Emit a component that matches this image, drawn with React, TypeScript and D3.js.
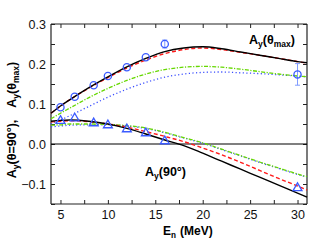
import React, { useRef, useEffect } from 'react';
import * as d3 from 'd3';

// neutron energies (MeV) for the calculated curves
const curveE = [4, 5, 6, 8, 10, 12, 14, 16, 18, 20, 22, 24, 26, 28, 30, 31];

// Ay(theta_max) curves
const maxSolid = [0.077, 0.095, 0.111, 0.141, 0.168, 0.193, 0.214, 0.231, 0.24, 0.243, 0.238, 0.23, 0.222, 0.214, 0.206, 0.203];
const maxDashed = [0.077, 0.095, 0.111, 0.14, 0.166, 0.19, 0.21, 0.226, 0.236, 0.24, 0.236, 0.229, 0.222, 0.214, 0.206, 0.202];
const maxDashDot = [0.063, 0.077, 0.09, 0.116, 0.139, 0.159, 0.175, 0.186, 0.192, 0.194, 0.192, 0.187, 0.181, 0.175, 0.17, 0.168];
const maxDotted = [0.05, 0.06, 0.071, 0.094, 0.117, 0.137, 0.154, 0.167, 0.175, 0.179, 0.18, 0.178, 0.176, 0.173, 0.17, 0.168];

// Ay(90 deg) curves
const c90Solid = [0.057, 0.059, 0.06, 0.057, 0.05, 0.039, 0.025, 0.01, -0.004, -0.023, -0.043, -0.063, -0.083, -0.103, -0.123, -0.133];
const c90Dashed = [0.055, 0.057, 0.058, 0.056, 0.05, 0.042, 0.031, 0.019, 0.006, -0.01, -0.027, -0.046, -0.066, -0.086, -0.105, -0.115];
const c90DashDot = [0.047, 0.048, 0.05, 0.05, 0.049, 0.046, 0.04, 0.029, 0.016, 0.003, -0.013, -0.029, -0.045, -0.06, -0.075, -0.082];
const c90Dotted = [0.043, 0.045, 0.047, 0.048, 0.048, 0.045, 0.039, 0.028, 0.015, 0.002, -0.014, -0.03, -0.046, -0.061, -0.076, -0.083];

// measured points
const dataE = [5, 6.5, 8.5, 10, 12, 14, 16, 30];
const dataMax = [0.092, 0.118, 0.147, 0.17, 0.192, 0.217, 0.25, 0.174];
const dataMaxErr = [0.004, 0.004, 0.004, 0.004, 0.004, 0.004, 0.01, 0.027];
const data90 = [0.058, 0.064, 0.052, 0.047, 0.037, 0.027, 0.007, -0.11];

const xTicks = d3.range(5, 31, 2.5);
const yTicks = d3.range(-0.15, 0.301, 0.05).map((v) => Math.round(v * 100) / 100);

const App = () => {
  const svgRef = useRef(null);
  useEffect(() => {
    d3.select(svgRef.current).selectAll('*').remove();
    const svg = d3.select(svgRef.current);
    const margin = { top: 24, right: 22, bottom: 38, left: 51 };
    const W = 329, H = 242;
    const x = d3.scaleLinear().domain([4, 31]).range([margin.left, W - margin.right]);
    const y = d3.scaleLinear().domain([-0.15, 0.3]).range([H - margin.bottom, margin.top]);
    const font = 'Liberation Sans, Arial, sans-serif';

    const isMajorX = (d) => Math.abs(d % 5) < 1e-6;
    const isMajorY = (d) => Math.abs(Math.round(d * 10) - d * 10) < 1e-6;

    const g = svg.append('g');
    // axes, ticks pointing inward
    const bottom = g.append('g').attr('transform', `translate(0,${y(-0.15)})`)
      .call(d3.axisBottom(x).tickValues(xTicks).tickSize(-4).tickPadding(6)
        .tickFormat((d) => (isMajorX(d) ? d3.format('d')(d) : '')));
    const top = g.append('g').attr('transform', `translate(0,${y(0.3)})`)
      .call(d3.axisTop(x).tickValues(xTicks).tickSize(-4).tickFormat(() => ''));
    const left = g.append('g').attr('transform', `translate(${x(4)},0)`)
      .call(d3.axisLeft(y).tickValues(yTicks).tickSize(-4).tickPadding(5)
        .tickFormat((d) => (isMajorY(d) && d > -0.15 ? d3.format('.1f')(d) : '')));
    const right = g.append('g').attr('transform', `translate(${x(31)},0)`)
      .call(d3.axisRight(y).tickValues(yTicks).tickSize(-4).tickFormat(() => ''));
    [bottom, top, left, right].forEach((a) => {
      a.selectAll('.domain').attr('stroke', '#222').attr('stroke-width', 1.2);
      a.selectAll('.tick line').attr('stroke', '#222');
      a.selectAll('text').style('font-family', font).style('font-size', '12.5px').attr('fill', '#111');
    });
    left.selectAll('.domain').attr('d', `M0,${y(0.3)}V${y(-0.15)}`);
    right.selectAll('.domain').attr('d', `M0,${y(0.3)}V${y(-0.15)}`);
    bottom.selectAll('.domain').attr('d', `M${x(4)},0H${x(31)}`);
    top.selectAll('.domain').attr('d', `M${x(4)},0H${x(31)}`);

    // zero line
    g.append('line')
      .attr('x1', x(4)).attr('x2', x(31)).attr('y1', y(0)).attr('y2', y(0))
      .attr('stroke', '#000').attr('stroke-width', 1.2);

    const line = d3.line().x((d) => x(d[0])).y((d) => y(d[1])).curve(d3.curveMonotoneX);
    const styles = [
      { vals: [maxDotted, c90Dotted], color: '#3b4fff', dash: '1.2,2.4', w: 1.3 },
      { vals: [maxDashDot, c90DashDot], color: '#66d800', dash: '4,1.5,1.2,1.5', w: 1.3 },
      { vals: [maxDashed, c90Dashed], color: '#ff1a1a', dash: '4,2.5', w: 1.4 },
      { vals: [maxSolid, c90Solid], color: '#000', dash: null, w: 1.4 },
    ];
    styles.forEach((s) => {
      s.vals.forEach((v) => {
        g.append('path')
          .attr('d', line(curveE.map((e, i) => [e, v[i]])))
          .attr('fill', 'none')
          .attr('stroke', s.color)
          .attr('stroke-width', s.w)
          .attr('stroke-dasharray', s.dash);
      });
    });

    const blue = '#3b5bff';
    // error bars
    dataE.forEach((e, i) => {
      const err = dataMaxErr[i];
      if (err < 0.006) return;
      g.append('line').attr('x1', x(e)).attr('x2', x(e))
        .attr('y1', y(dataMax[i] - err)).attr('y2', y(dataMax[i] + err))
        .attr('stroke', '#7f9bff').attr('stroke-width', 1);
      [-1, 1].forEach((sg) => {
        g.append('line').attr('x1', x(e) - 2.5).attr('x2', x(e) + 2.5)
          .attr('y1', y(dataMax[i] + sg * err)).attr('y2', y(dataMax[i] + sg * err))
          .attr('stroke', '#7f9bff').attr('stroke-width', 1);
      });
    });
    // circles
    g.selectAll('circle.pt').data(dataE).enter().append('circle')
      .attr('cx', (d) => x(d)).attr('cy', (d, i) => y(dataMax[i])).attr('r', 3.6)
      .attr('fill', 'none').attr('stroke', blue).attr('stroke-width', 1.3);
    // triangles
    const tri = d3.symbol().type(d3.symbolTriangle).size(34);
    g.selectAll('path.tri').data(dataE).enter().append('path')
      .attr('d', tri())
      .attr('transform', (d, i) => `translate(${x(d)},${y(data90[i])})`)
      .attr('fill', 'none').attr('stroke', blue).attr('stroke-width', 1.3);

    // annotations: parts = [text, dy, small]
    const lab = (parent, parts, size) => {
      parts.forEach(([txt, dy, small, dx]) => {
        const ts = parent.append('tspan').text(txt);
        if (dy) ts.attr('dy', dy);
        if (dx) ts.attr('dx', dx);
        if (small) ts.style('font-size', `${size * 0.68}px`);
      });
    };
    const txt = (gx, gy, size) => svg.append('text').attr('x', gx).attr('y', gy)
      .style('font-family', font).style('font-weight', 'bold').style('font-size', `${size}px`);

    lab(txt(249, 44, 12.5), [['A'], ['y', 3, true], ['(θ', -3], ['max', 3, true], [')', -3]], 12.5);
    lab(txt(145, 176, 12.5), [['A'], ['y', 3, true], ['(90°)', -3]], 12.5);
    lab(txt(163, 235, 12), [['E'], ['n', 3, true], ['(MeV)', -3, false, 4]], 12);

    const yl = svg.append('g').attr('transform', `translate(16,${120}) rotate(-90)`);
    const t = yl.append('text').attr('text-anchor', 'middle')
      .style('font-family', font).style('font-weight', 'bold').style('font-size', '12.5px');
    lab(t, [['A'], ['y', 3, true], ['(θ=90°),', -3], ['A', 0, false, 12], ['y', 3, true], ['(θ', -3], ['max', 3, true], [')', -3]], 12.5);
  }, []);

  return (
    <svg ref={svgRef} width={329} height={242} style={{ position: 'absolute', left: 0, top: 0, background: '#fff' }}></svg>
  );
};

export default App;
